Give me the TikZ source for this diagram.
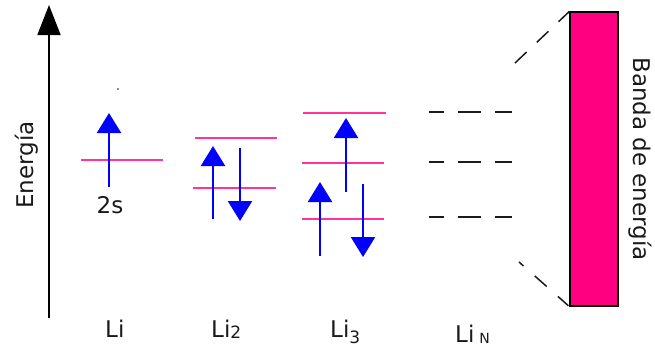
\documentclass[tikz,border=0pt]{standalone}
\usepackage{fontspec}
\setmainfont{DejaVu Sans}
\usetikzlibrary{arrows.meta}
\usepackage{xcolor}
\definecolor{orb}{HTML}{FF3399}
\definecolor{spin}{HTML}{0000FF}
\definecolor{bandfill}{HTML}{FF0080}
\definecolor{ink}{HTML}{1A1A1A}

\begin{document}
\begin{tikzpicture}[x=1pt,y=-1pt,
    orbital/.style={draw=orb,line width=1.8pt},
    electron/.style={draw=spin,line width=2.3pt,-{Triangle[width=24pt,length=20pt]}},
    lbl/.style={font=\fontsize{23}{26}\selectfont,text=ink,inner sep=0pt},
    dashrow/.style={draw=ink,line width=1.8pt,dash pattern=on 15pt off 14pt on 23pt off 14pt on 17pt},
    fan/.style={draw=ink,line width=1.5pt,dash pattern=on 16pt off 14pt}]
  \useasboundingbox (0,0) rectangle (655,348);

  % energy axis
  \coordinate (axis0) at (49,318);
  \coordinate (axis1) at (49,5);
  \draw[black,line width=1.6pt,-{Triangle[width=23pt,length=30pt]}] (axis0) -- (axis1);
  \node[lbl,rotate=90,anchor=base] (energy) at (33,165) {Energía};

  % Li
  \fill[ink] (118,89) circle (0.9pt);
  \draw[orbital] (81,160) -- (163,160);
  \draw[electron] (109,187) -- (109,113);
  \node[lbl] (twos) at (110,205) {2s};

  % Li2
  \draw[orbital] (195,138) -- (277,138);
  \draw[orbital] (193,188) -- (276,188);
  \draw[electron] (213,219) -- (213,146);
  \draw[electron] (240,148) -- (240,221);

  % Li3
  \draw[orbital] (303,113) -- (386,113);
  \foreach \y in {163,219}
    \draw[orbital] (302,\y) -- (384,\y);
  \draw[electron] (346,192) -- (346,118);
  \draw[electron] (320,256) -- (320,182);
  \draw[electron] (363,184) -- (363,257);

  % LiN
  \foreach \y in {112,162,217}
    \draw[dashrow] (429,\y) -- (512,\y);

  % band
  \node[draw=black,line width=1.2pt,fill=bandfill,inner sep=0pt,
        minimum width=48pt,minimum height=294pt] (band) at (594,159) {};
  \coordinate (fantop) at (515,63);
  \coordinate (fanbot) at (519,262);
  \draw[fan] (fantop) -- (band.north west);
  \draw[fan,dash pattern=on 6pt off 15pt on 16pt off 15pt on 14pt] (fanbot) -- (band.south west);
  \node[lbl,rotate=-90,anchor=base] (bandlbl) at (633,159) {Banda de energía};

  % labels
  \node[lbl,anchor=base west] (li1) at (105,337) {Li};
  \node[lbl,anchor=base west] (li2) at (211,337) {Li\raisebox{-1pt}{\fontsize{17}{20}\selectfont 2}};
  \node[lbl,anchor=base west] (li3) at (330,337) {Li\raisebox{-6pt}{\fontsize{17}{20}\selectfont 3}};
  \node[lbl,anchor=base west] (liN) at (455,342) {Li\hspace{5pt}\raisebox{-1pt}{\fontsize{14}{16}\selectfont N}};
\end{tikzpicture}
\end{document}
